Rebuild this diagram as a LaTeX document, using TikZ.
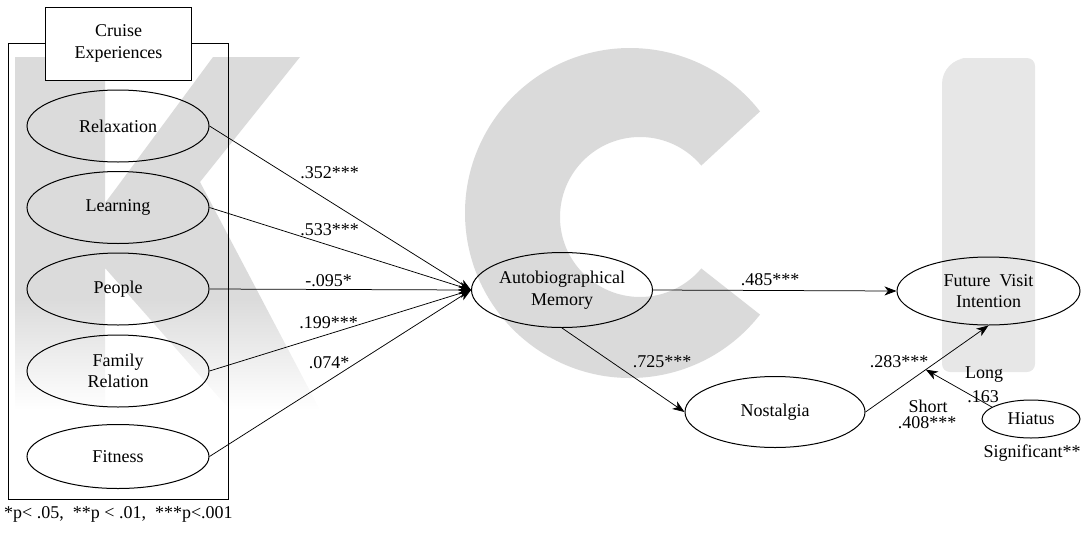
\documentclass[tikz,border=0pt]{standalone}
\usepackage{fontspec}
\setmainfont{Liberation Serif}
\usetikzlibrary{shapes.geometric,arrows.meta,calc}

\definecolor{wmK}{gray}{0.86}
\definecolor{wmC}{gray}{0.855}
\definecolor{wmI}{gray}{0.905}

\begin{document}
\begin{tikzpicture}[x=1pt,y=-1pt,
  every node/.style={font=\fontsize{18}{21.5}\selectfont, inner sep=0pt, align=center},
  latent/.style={ellipse, draw, line width=1pt, minimum width=182pt, minimum height=72pt},
  conn/.style={line width=0.75pt, -{Stealth[length=12pt,width=9pt,inset=3.5pt]}},
  coef/.style={anchor=base},
]
\useasboundingbox (0,0) rectangle (1089,533);

% ---- background letters ----
\begin{scope}
  \clip (15,57) rectangle (105,410)
        (213,57) -- (300,57) -- (200,182) -- (320,410) -- (230,410)
        -- (105,268) -- (105,203) -- (117,187) -- cycle;
  \fill[wmK] (0,40) rectangle (340,300);
  \shade[top color=wmK, bottom color=white] (0,299.5) rectangle (340,410);
\end{scope}
\fill[wmC] (630,213) ++(38:165) arc[start angle=38, end angle=322, radius=165]
  -- ($(640,217)+(320:80)$) arc[start angle=320, end angle=40, radius=80] -- cycle;
\fill[wmI, rounded corners=8pt] (942,372) -- (1035,372) -- (1035,58) -- (968,58)
  [rounded corners=26pt] -- (942,58) [rounded corners=8pt] -- cycle;

% ---- cruise experiences block ----
\draw[line width=1pt] (8,43) rectangle (228,499);
\node[draw, fill=white, line width=1pt, minimum width=146pt, minimum height=73pt]
  (ce) at (118.5,43.5) {Cruise\\Experiences};

\node[latent] (rel) at (118,126) {Relaxation};
\node[latent] (lea) at (118,207.5) {Learning};
\node[latent] (peo) at (118,289) {People};
\node[latent] (fam) at (118,371) {Family\\Relation};
\node[latent, minimum height=64pt] (fit) at (118,456.5) {Fitness};

% ---- outcome constructs ----
\node[latent, minimum width=181pt, minimum height=75pt] (am) at (562,290) {Autobiographical\\Memory};
\node[latent, minimum width=183pt, minimum height=68pt] (fvi) at (988.5,291) {Future~~Visit\\Intention};
\node[latent, minimum width=180pt, minimum height=71pt] (nos) at (775,412) {Nostalgia};
\node[latent, minimum width=98pt, minimum height=38pt] (hia) at (1031,419) {Hiatus};

% ---- paths ----
\draw[conn] (rel.east) -- (am.west);
\draw[conn] (lea.east) -- (am.west);
\draw[conn] (peo.east) -- (am.west);
\draw[conn] (fam.east) -- (am.west);
\draw[conn] (fit.east) -- (am.west);
\draw[conn] (am.east) -- (fvi.west);
\draw[conn] (am.south) -- (nos.west);
\draw[conn] (nos.east) -- coordinate[pos=0.49] (hit) (fvi.south);
\draw[conn] (hia.163) -- (hit);

% ---- coefficients ----
\node[coef] (c1) at (329.5,178) {.352***};
\node[coef] (c2) at (329.5,235) {.533***};
\node[coef] (c3) at (328.5,286) {-.095*};
\node[coef] (c4) at (328.5,328) {.199***};
\node[coef] (c5) at (329,368) {.074*};
\node[coef] (c6) at (770,285) {.485***};
\node[coef] (c7) at (662,367) {.725***};
\node[coef] (c8) at (899,367) {.283***};
\node[coef] (l1) at (984,378) {Long};
\node[coef] (l2) at (983,402) {.163};
\node[coef] (s1) at (928,412) {Short};
\node[coef] (s2) at (927,428) {.408***};
\node[coef] (sig) at (1032,457) {Significant**};

\node[anchor=base west] (note) at (4,518) {*p<~.05,~~**p~<~.01,~~***p<.001};
\end{tikzpicture}
\end{document}
